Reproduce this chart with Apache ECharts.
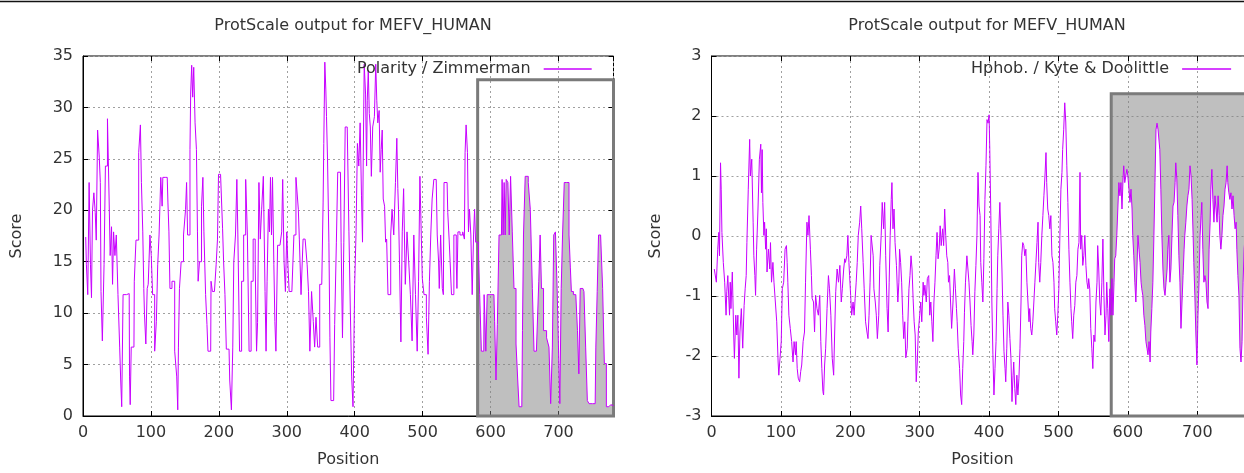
<!DOCTYPE html>
<html><head><meta charset="utf-8">
<script src="https://cdn.jsdelivr.net/npm/echarts@6/dist/echarts.min.js"></script>
<style>html,body{margin:0;padding:0;background:#fff;overflow:hidden;width:1244px;height:473px}#c{width:1262px;height:473px}</style>
</head><body><div id="c"></div>
<script>
// ---------------- data ----------------
const titleText = 'ProtScale output for MEFV_HUMAN';
const seriesNames = ['Polarity / Zimmerman', 'Hphob. / Kyte & Doolittle'];
const xAxisName = 'Position';
const yAxisName = 'Score';
const seqLength = 781;
// highlighted regions [start position, top score]
const polarityBox = [581, 32.7];
const hphobBox = [576, 2.37];

// Polarity / Zimmerman profile: [position, score]
const polarity = [[4,17.4],[6,14.7],[8,11.8],[10,22.7],[12,14.7],[13,11.5],[15,20],[17,21.7],[19,19.8],[20,17.1],[23,27.8],[25,25.1],[26,22.7],[27,12.1],[30,7.3],[32,14.7],[34,24.3],[38,28.9],[39,20.9],[41,15.6],[43,18.4],[44,12.8],[46,17.9],[48,15.6],[50,17.6],[53,11.8],[55,6.7],[56,3.5],[58,0.9],[60,11.8],[68,11.9],[69,3.8],[70,1.1],[72,6.7],[75,6.7],[76,13.1],[80,17.1],[84,25.6],[85,28.3],[87,22.7],[89,17.9],[90,12.4],[91,9.9],[94,7],[95,12.4],[97,12.8],[100,17.6],[101,15.6],[104,11.8],[107,6.3],[109,9.2],[111,14.7],[113,17.6],[116,23.2],[117,20.4],[118,23.2],[124,23.2],[126,20.8],[127,17.9],[129,12.4],[133,13.1],[137,6.3],[139,3.8],[140,0.6],[141,6.7],[143,12.4],[146,15],[150,17.6],[152,20.1],[153,22.7],[155,17.6],[157,17.6],[158,25.9],[159,31.3],[161,34.1],[162,31],[164,33.9],[166,28.5],[168,25.9],[169,17.9],[170,13.1],[173,15],[176,20.4],[177,23.2],[179,17.9],[182,11.8],[183,8.9],[185,6.3],[188,6.3],[189,13.1],[192,12.1],[195,12.1],[197,14.7],[199,17.2],[200,23.5],[205,23.5],[206,18.2],[208,15],[210,11.8],[212,6.5],[215,6.5],[217,3.5],[220,0.6],[221,6.7],[223,15],[226,17.6],[227,23],[229,17.6],[232,6.3],[235,13.1],[238,17.6],[241,23],[243,17.6],[246,6.3],[249,13.1],
[252,17.2],[255,14.7],[256,6.3],[258,9.1],[260,22.7],[262,17.2],[264,20.1],[267,23.3],[269,12.1],[270,6.3],[272,13.1],[274,20.1],[275,17.9],[277,23.2],[278,17.6],[280,23.2],[282,14.7],[283,9.2],[285,6.3],[288,16.6],[292,16.6],[293,17.9],[295,23],[297,15],[299,12.1],[301,17.9],[302,15],[305,12.1],[310,12.1],[311,17.6],[316,23.2],[318,20.1],[319,17.2],[323,11.8],[325,17.2],[329,17.2],[331,14.7],[333,12.1],[335,6.3],[338,12.1],[340,9.2],[342,6.7],[344,9.6],[347,6.7],[350,12.8],[353,12.8],[354,20.8],[355,26.5],[357,34.4],[358,31.7],[359,29.1],[361,24.9],[363,16.9],[364,7.6],[366,1.5],[369,1.5],[372,8.9],[374,16.9],[376,23.7],[379,23.7],[381,16.9],[383,7.6],[385,16.9],[387,28.1],[391,28.1],[392,17.9],[395,10.5],[396,3.8],[399,0.9],[401,12.8],[403,17.9],[405,26.5],[407,24.3],[409,28.5],[411,21.4],[412,16.9],[413,24.6],[415,34.2],[417,31.3],[418,24.3],[419,30.7],[421,33.6],[422,29.4],[424,28.1],[425,23.3],[428,28.1],[430,29.1],[432,34.2],[433,30.7],[435,28.5],[437,29.7],[438,23.7],[440,25.9],[441,27.8],[443,21.1],[445,20.4],[446,16.9],[448,17.2],[450,11.8],[452,11.8],[454,17.6],[456,20.1],[459,17.6],[461,22.7],[463,27],[464,22.1],[465,20.1],[467,14.7],[469,7.2],[471,17.9],[473,22.1],[476,12.8],[478,17.9],[481,15],[483,11.8],[486,7.3],[488,17.6],[491,11.8],[493,6.3],[495,13.1],[497,23.3],[499,17.6],[500,13.4],[504,11.8],[507,9.6],[509,6],[511,13.1],[513,17.6],[515,21.1],
[518,23],[520,23],[523,17.6],[524,15],[525,12.4],[528,17.6],[530,12.4],[531,11.8],[532,22.7],[536,22.7],[538,19.8],[540,17.2],[541,15],[544,11.8],[545,11.8],[547,17.6],[549,17.6],[550,15],[551,12.4],[553,17.9],[557,17.6],[561,17.9],[562,17.2],[563,25.6],[565,28.3],[567,25.6],[568,17.9],[570,20.1],[572,17.6],[574,11.8],[576,17.6],[577,20.1],[579,16.9],[582,16.9],[583,15],[585,11.8],[588,6.3],[590,6.3],[591,11.8],[592,9.9],[594,6.3],[596,11.8],[599,11.8],[605,11.8],[607,9.2],[609,3.5],[611,8.9],[614,17.6],[616,17.6],[618,23],[619,17.6],[621,22.7],[622,17.6],[624,23],[627,22.7],[628,17.6],[631,23.3],[633,17.9],[636,12.4],[639,7],[641,3.5],[643,0.9],[646,0.9],[648,8.3],[649,17.6],[653,23.3],[658,22.7],[659,20.1],[660,17.6],[663,12.4],[665,6.3],[670,6.3],[672,13.1],[674,17.6],[676,12.4],[680,8.3],[685,7.6],[687,6.7],[690,1.2],[692,6.7],[694,17.6],[697,17.9],[699,12.4],[701,6.7],[703,1.2],[705,12.4],[707,17.6],[710,22.7],[714,22.7],[717,17.6],[718,14.4],[720,12.1],[724,11.8],[727,11.8],[729,8.3],[731,4.1],[733,12.4],[736,12.4],[739,12.1],[741,6.7],[744,1.5],[746,1.2],[754,1.2],[756,6.7],[758,12.1],[760,17.6],[764,17.6],[766,12.4],[769,5.1],[772,0.9],[776,0.9],[778,1.1],[781,1.0]];

// Hphob. / Kyte & Doolittle profile: [position, score]
const hphob = [[4,-0.55],[7,-0.77],[9,-0.22],[10.5,0.06],[11.5,-0.33],[13,1.22],[14,0.78],[15,0.06],[17,-0.44],[19,-0.77],[21,-1.32],[22,-0.93],[23.5,-0.66],[26,-1.32],[27,-0.77],[28,-1.21],[30,-0.6],[32,-1.65],[33,-2.04],[35,-1.32],[36.5,-1.65],[38,-1.32],[39.5,-2.37],[41,-1.6],[43,-1.21],[45,-1.87],[47,-1.16],[48.5,-0.88],[50,-0.66],[51,-0.11],[53,0.78],[55,1.61],[56,1.0],[58,1.28],[60,0.23],[61,-0.33],[62.5,-0.66],[63.5,-0.99],[65,-0.22],[67,0.45],[69,1.28],[71,1.53],[72,0.72],[73,1.44],[74,0.56],[75.5,0.01],[76.5,0.23],[78,-0.22],[79,0.12],[80,-0.6],[82,-0.22],[84,-0.55],[85,-0.11],[86.5,-0.77],[88.5,-0.44],[90,-0.77],[92,-1.1],[94,-1.43],[96,-2.1],[97,-2.32],[98,-2.15],[100.5,-1.76],[102,-0.88],[104,-0.77],[106,-0.22],[108,-0.16],[109,-0.44],[110,-0.77],[111.5,-1.32],[113.5,-1.54],[115.5,-1.76],[117.5,-2.1],[119,-1.76],[121,-1.98],[122,-1.76],[123.5,-2.21],[125,-2.37],[127,-2.43],[128.5,-2.26],[130,-2.15],[132,-1.76],[134,-1.6],[135.5,-0.77],[137.5,0.23],[139,0.01],[140.5,0.34],[142.5,-0.22],[144,-0.66],[145,-1.04],[147,-1.1],[148.5,-1.6],[150,-0.99],[152,-1.21],[154,-1.32],[156,-0.99],[157.5,-1.76],[159,-2.21],[160.5,-2.59],[161.5,-2.65],[163,-2.15],[164.5,-1.87],[166.5,-1.21],[168.5,-0.66],[170,-0.88],[172,-1.32],[174,-2.04],[176,-2.32],[177.5,-1.6],[179,-0.93],[181,-0.55],[183,-0.77],[185,-0.49],[187,-1.1],[188.5,-0.88],[190.5,-0.55],[192,-0.38],[193,-0.44],[195,-0.33],[196.5,0.01],[198,-0.44],[199,-0.66],[200.5,-0.99],[202,-1.32],[204,-1.1],[205.5,-1.32],[207,-1.04],[208.5,-0.77],[210,-0.44],[211.5,0.01],[213.5,0.23],[215,0.5],[216.5,0.12],[218.5,-0.44],[220,-0.88],[222,-1.43],[224,-1.6],[225.5,-1.71],[227,-1.32],[228.5,-0.77],[230,0.01],[231.5,0.01],[233,-0.33],[234,-0.88],[236,-1.1],[237.5,-1.32],[239,-1.71],[241,-1.32],[242.5,-0.49],[244.5,0.01],[246,0.56],
[248,0.12],[249.5,0.56],[251,-0.33],[253,-1.21],[254.5,-1.6],[256,-0.77],[257.5,0.01],[259,0.61],[260,0.89],[261.5,0.12],[263,0.45],[264.5,-0.11],[266.5,-0.49],[268.5,-1.1],[270,-0.77],[271,-0.22],[272.5,-0.44],[274,-0.77],[275.5,-1.32],[277,-1.71],[278.5,-1.43],[280,-2.03],[282,-1.87],[283,-1.43],[284.5,-0.88],[286,-0.66],[287.5,-0.33],[289,-0.55],[290.5,-1.04],[292,-1.43],[293.5,-1.65],[295,-2.43],[296.5,-2.1],[298,-1.6],[300,-1.32],[301.5,-1.1],[303,-1.43],[305,-0.77],[306,-0.99],[307.5,-0.82],[309.5,-1.1],[311,-0.71],[313,-0.66],[314.5,-1.32],[316,-1.1],[317.5,-1.43],[319,-1.76],[320.5,-1.1],[322,-0.77],[323.5,-0.33],[325,0.06],[326.5,-0.38],[328,-0.22],[329.5,0.17],[331,-0.16],[333,0.12],[334.5,-0.16],[336,0.45],[337.5,0.01],[339,-0.33],[340.5,-0.44],[341.5,-0.77],[343,-0.66],[344.5,-1.1],[346,-1.54],[348,-1.1],[350,-0.55],[351.5,-0.88],[353,-1.21],[354,-1.43],[355.5,-1.87],[357.5,-2.21],[359,-2.65],[360.5,-2.81],[362,-2.21],[363.5,-1.76],[364.5,-1.27],[366,-0.77],[368,-0.33],[369.5,-0.55],[371,-0.77],[372.5,-1.1],[374,-1.49],[375.5,-1.76],[376.5,-1.98],[378,-1.65],[379.5,-0.93],[381,-0.49],[382.5,0.01],[384,1.06],[385.5,0.5],[387,0.34],[388,-0.44],[389.5,-0.77],[391,-1.1],[392.5,-0.38],[394,0.61],[395.5,1.17],[397,1.94],[398.5,1.88],[400,2.02],[401,1.44],[402.5,0.34],[404,-1.1],[405.5,-1.98],[407,-2.65],[408.5,-2.21],[410,-1.76],[411.5,-0.88],[412.5,-0.33],[414,0.12],[415.5,0.56],[417,0.01],[418.5,-0.55],[420,-1.32],[421.5,-1.93],[423,-2.21],[424,-2.43],[425.5,-1.87],[427,-1.1],[428.5,-1.32],[430,-1.71],[431.5,-2.04],[433,-2.76],[434.5,-2.32],[435.5,-2.1],[437,-2.54],[438.5,-2.81],[440,-2.32],[441.5,-2.65],[443,-2.37],[444.5,-1.87],[446,-1.1],[447,-0.33],[448.5,-0.11],[450,-0.16],[451.5,-0.33],[453,-0.22],[454.5,-0.77],[456,-1.1],[457.5,-1.43],[458.5,-1.21],[460,-1.54],[461.5,-1.65],[463,-1.43],[464.5,-1.1],[466,-0.77],[467.5,-0.44],[469,-0.11],[470.5,0.23],[471.5,-0.44],[473,-0.77],[474.5,-0.44],[476,0.01],[477.5,0.34],[479,0.67],[480.5,1.0],[482,1.39],[483,0.89],[484.5,0.45],[486,0.34],[487.5,0.12],[489,0.34],[490.5,-0.33],[492,-0.44],[493.5,-0.77],[494.5,-1.21],[496,-1.43],[497.5,-1.65],[499,-1.32],[500.5,-0.88],[502,0.01],[503.5,0.78],[505,1.06],[506,1.44],[507.5,1.77],[509,2.22],
[510.5,1.9],[512,1.17],[513.5,0.56],[515,-0.22],[516.5,-0.77],[518,-1.21],[519,-1.43],[520.5,-1.71],[522,-1.32],[523.5,-1.16],[525,-0.77],[526.5,-0.66],[528,-0.22],[529.5,-0.11],[531,1.06],[532,-0.22],[533.5,0.01],[535,-0.49],[536.5,-0.33],[538,0.01],[539.5,-0.49],[541,-0.77],[542.5,-0.88],[543.5,-0.71],[545,-0.88],[546.5,-1.54],[548,-1.87],[549.5,-2.21],[551,-1.65],[552.5,-1.76],[554,-1.1],[555.5,-0.77],[556.5,-0.16],[558,-0.55],[559.5,-1.1],[561,-1.32],[562.5,-0.77],[564,-0.05],[565.5,-0.99],[567,-1.65],[568.5,-1.32],[569.5,-0.77],[571,-1.21],[572.5,-1.76],[574,-0.88],[575.5,-1.32],[577,-0.71],[578.5,-1.32],[580,-0.77],[581,-0.38],[582.5,-0.33],[584,0.01],[585.5,0.45],[587,0.89],[588.5,0.67],[590,0.89],[591.5,0.45],[593,0.95],[594,1.17],[595.5,0.89],[597,1.0],[598.5,1.11],[600,1.0],[601.5,0.78],[603,0.56],[604.5,0.78],[606,0.45],[607,0.01],[608.5,-0.33],[610,-0.77],[611.5,-1.1],[613,-0.55],[614.5,0.01],[616,-0.22],[617.5,-0.44],[619,-0.77],[620,-0.88],[621.5,-0.99],[623,-1.32],[624.5,-1.49],[626,-1.76],[627.5,-1.87],[629,-1.98],[630.5,-1.76],[632,-2.1],[633,-1.6],[634.5,-1.21],[636,-0.77],[637.5,0.01],[639,0.89],[640.5,1.77],[642,1.88],[643.5,1.77],[645,1.77],[646,1.44],[647.5,0.78],[649,0.01],[650.5,-0.55],[652,-0.88],[653.5,-0.99],[655,-0.77],[656.5,-0.55],[657.5,-0.22],[659,0.01],[660.5,-0.77],[662,-0.55],[663.5,0.01],[665,0.5],[666.5,0.56],[668,0.89],[669,1.22],[670.5,0.95],[672,0.34],[673.5,-0.33],[675,-0.77],[676.5,-1.54],[678,-1.1],[679.5,-0.66],[681,-0.22],[682,0.01],[683.5,0.23],[685,0.5],[686.5,0.67],[688,0.78],[689.5,1.17],[691,1.0],[692.5,0.61],[694,0.01],[695,-0.44],[696.5,-0.99],[698,-1.65],[699.5,-2.15],[701,-1.32],[702.5,-0.77],[704,0.01],[705.5,0.34],[706.5,0.56],[708,-0.22],[709.5,-0.77],[711,-0.66],[712.5,-0.77],[714,-1.1],[715.5,-1.21],[717,-0.22],[718.5,0.23],[719.5,0.78],[721,1.11],[722.5,0.61],[724,0.23],[725.5,0.67],[727,0.45],[728.5,0.23],[730,0.67],[731.5,0.34],[732.5,0.01],[734,-0.22],[735.5,0.01],[737,0.34],[738.5,0.5],[740,0.78],[741.5,0.89],[743,1.17],[744,0.89],[745.5,0.72],[747,0.61],[748.5,0.72],[750,0.45],[751.5,0.67],[753,0.34],[754.5,0.12],[756,0.23],[757,-0.22],[758.5,-0.66],[760,-0.99],[761.5,-1.87],[763,-2.1],[764.5,-1.76],[766,-0.77],[767.5,-0.22],[769,0.01],[771,0.3],[773,-0.2],[775,0.2],[777,-0.1]];

// ---------------- chart ----------------
const FONT = 'DejaVu Sans';
const TXT = '#333333';
const LINE = '#c800ff';
const FS = 16;

function fromStart(points, start) {
  let i = points.findIndex(p => p[0] >= start);
  return points.slice(Math.max(0, i - 1));
}

function xAx(gi, mirror) {
  return {
    type: 'value', gridIndex: gi, min: 0, max: seqLength, interval: 100,
    position: mirror ? 'top' : 'bottom',
    axisLine: { show: !mirror, onZero: false, lineStyle: { color: '#000', width: 1 } },
    axisTick: { show: true, inside: true, length: 5, lineStyle: { color: '#000' } },
    axisLabel: { show: !mirror, showMaxLabel: false, color: TXT, fontSize: FS, fontFamily: FONT, margin: 9,
      formatter: v => (v % 100 === 0 ? String(v) : '') },
    splitLine: { show: !mirror, lineStyle: { color: '#a0a0a0', type: [2, 3], width: 1 } },
    name: mirror ? '' : xAxisName, nameLocation: 'middle', nameGap: 36,
    nameTextStyle: { color: TXT, fontSize: FS, fontFamily: FONT }
  };
}
function yAx(gi, mirror, min, max, interval, gap) {
  return {
    type: 'value', gridIndex: gi, min, max, interval,
    position: mirror ? 'right' : 'left',
    axisLine: { show: !mirror, onZero: false, lineStyle: { color: '#000', width: 1 } },
    axisTick: { show: true, inside: true, length: 5, lineStyle: { color: '#000' } },
    axisLabel: { show: !mirror, color: TXT, fontSize: FS, fontFamily: FONT, margin: 10 },
    splitLine: { show: !mirror, lineStyle: { color: '#a0a0a0', type: [2, 3], width: 1 } },
    name: mirror ? '' : yAxisName, nameLocation: 'middle', nameGap: gap,
    nameTextStyle: { color: TXT, fontSize: FS, fontFamily: FONT }
  };
}
const boxStyle = { color: 'rgba(0,0,0,0)', borderColor: '#7a7a7a', borderWidth: 3 };
const fillColor = 'rgba(128,128,128,0.5)';

const chart = echarts.init(document.getElementById('c'), null, { renderer: 'canvas' });
chart.setOption({
  animation: false,
  backgroundColor: '#ffffff',
  textStyle: { fontFamily: FONT },
  title: [
    { text: titleText, left: 348, top: 13, textAlign: 'center',
      textStyle: { color: TXT, fontSize: FS, fontWeight: 'normal', fontFamily: FONT } },
    { text: titleText, left: 982, top: 13, textAlign: 'center',
      textStyle: { color: TXT, fontSize: FS, fontWeight: 'normal', fontFamily: FONT } }
  ],
  legend: [
    { data: [seriesNames[0]], left: 352, top: 56, align: 'right', icon: 'rect', itemWidth: 48, itemHeight: 1.5,
      textStyle: { color: TXT, fontSize: FS, fontFamily: FONT, padding: [0, 8, 0, 0] } },
    { data: [seriesNames[1]], left: 966, top: 56, align: 'right', icon: 'rect', itemWidth: 49, itemHeight: 1.5,
      textStyle: { color: TXT, fontSize: FS, fontFamily: FONT, padding: [0, 8, 0, 0] } }
  ],
  grid: [
    { left: 83, top: 56, width: 530.5, height: 363.5, show: true, borderColor: '#000', borderWidth: 1, backgroundColor: '#fff' },
    { left: 711.5, top: 56, width: 542, height: 363.5, show: true, borderColor: '#000', borderWidth: 1, backgroundColor: '#fff' }
  ],
  xAxis: [xAx(0, false), xAx(0, true), xAx(1, false), xAx(1, true)],
  yAxis: [yAx(0, false, 0, 35, 5, 58), yAx(0, true, 0, 35, 5, 0), yAx(1, false, -3, 3, 1, 48), yAx(1, true, -3, 3, 1, 0)],
  graphic: [
    { type: 'line', shape: { x1: 0, y1: 1.5, x2: 1262, y2: 1.5 }, style: { stroke: '#111', lineWidth: 1.5 } }
  ],
  series: [
    { name: 'polarityFill', type: 'line', xAxisIndex: 0, yAxisIndex: 0, data: fromStart(polarity, polarityBox[0]),
      symbol: 'none', step: 'middle', silent: true, z: 1, lineStyle: { width: 0, opacity: 0 },
      areaStyle: { color: fillColor, opacity: 1 },
      markArea: { silent: true, itemStyle: boxStyle,
        data: [[{ xAxis: polarityBox[0], yAxis: 0 }, { xAxis: seqLength, yAxis: polarityBox[1] }]] } },
    { name: seriesNames[0], type: 'line', xAxisIndex: 0, yAxisIndex: 0, data: polarity,
      symbol: 'none', step: 'middle', color: LINE, z: 3, lineStyle: { width: 1, color: LINE } },
    { name: 'hphobFill', type: 'line', xAxisIndex: 2, yAxisIndex: 2, data: fromStart(hphob, hphobBox[0]),
      symbol: 'none', silent: true, z: 1, lineStyle: { width: 0, opacity: 0 },
      areaStyle: { color: fillColor, opacity: 1, origin: hphobBox[1] },
      markArea: { silent: true, itemStyle: boxStyle,
        data: [[{ xAxis: hphobBox[0], yAxis: -3 }, { xAxis: seqLength, yAxis: hphobBox[1] }]] } },
    { name: seriesNames[1], type: 'line', xAxisIndex: 2, yAxisIndex: 2, data: hphob,
      symbol: 'none', color: LINE, z: 3, lineStyle: { width: 1, color: LINE } }
  ]
});
</script>
</body></html>
